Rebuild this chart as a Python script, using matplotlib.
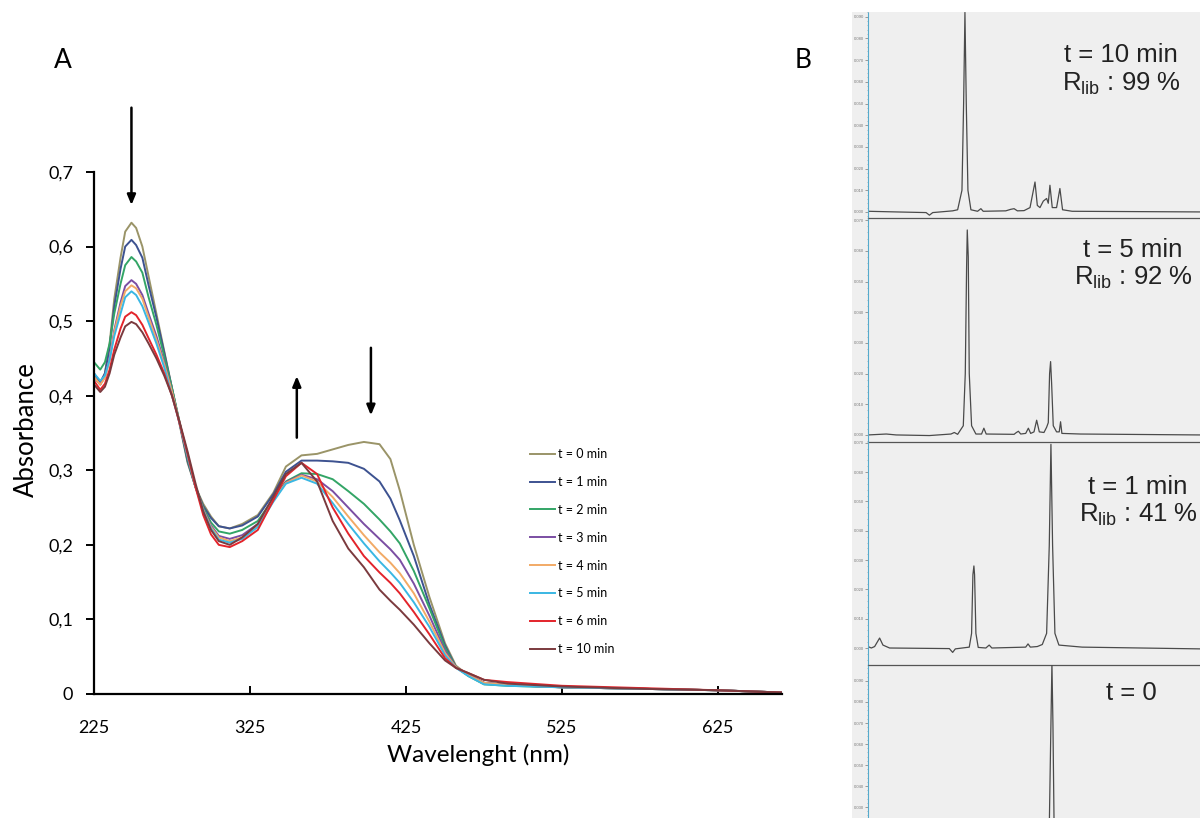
import matplotlib
matplotlib.use("Agg")
import matplotlib.pyplot as plt
from matplotlib.patches import Rectangle

# ---------------- Panel A data ----------------
wavelength = [225, 229, 232, 235, 238, 242, 245, 249, 252, 256, 260, 265, 270, 275, 280, 285, 290, 295, 300,
              305, 312, 320, 330, 340, 348, 358, 368, 378, 388, 398, 408, 415, 421, 430, 440, 450, 457, 465,
              475, 490, 525, 575, 625, 666]
abs_t0 = [0.425, 0.415, 0.430, 0.470, 0.530, 0.585, 0.620, 0.632, 0.625, 0.600, 0.560, 0.510, 0.460, 0.410, 0.360, 0.310, 0.278, 0.255, 0.238,
          0.225, 0.222, 0.228, 0.240, 0.270, 0.305, 0.320, 0.322, 0.328, 0.334, 0.338, 0.335, 0.315, 0.273, 0.200, 0.130, 0.068, 0.038, 0.025,
          0.015, 0.012, 0.009, 0.007, 0.005, 0.002]
abs_t1 = [0.430, 0.418, 0.430, 0.465, 0.520, 0.570, 0.600, 0.609, 0.602, 0.585, 0.548, 0.505, 0.458, 0.410, 0.362, 0.312, 0.278, 0.252, 0.236,
          0.225, 0.222, 0.226, 0.238, 0.268, 0.298, 0.313, 0.313, 0.312, 0.310, 0.302, 0.285, 0.262, 0.233, 0.185, 0.120, 0.065, 0.036, 0.025,
          0.015, 0.012, 0.009, 0.007, 0.005, 0.002]
abs_t2 = [0.445, 0.435, 0.445, 0.470, 0.510, 0.550, 0.575, 0.586, 0.580, 0.565, 0.532, 0.495, 0.453, 0.410, 0.363, 0.315, 0.278, 0.250, 0.230,
          0.218, 0.215, 0.220, 0.232, 0.262, 0.285, 0.296, 0.295, 0.288, 0.272, 0.255, 0.234, 0.218, 0.202, 0.165, 0.115, 0.062, 0.036, 0.024,
          0.013, 0.011, 0.009, 0.007, 0.005, 0.002]
abs_t3 = [0.425, 0.415, 0.425, 0.450, 0.488, 0.525, 0.547, 0.555, 0.550, 0.535, 0.510, 0.480, 0.445, 0.405, 0.362, 0.318, 0.278, 0.248, 0.226,
          0.212, 0.208, 0.213, 0.228, 0.260, 0.284, 0.294, 0.288, 0.272, 0.250, 0.228, 0.208, 0.194, 0.180, 0.148, 0.105, 0.058, 0.036, 0.025,
          0.015, 0.012, 0.009, 0.007, 0.005, 0.002]
abs_t4 = [0.425, 0.415, 0.424, 0.448, 0.485, 0.520, 0.540, 0.548, 0.544, 0.530, 0.505, 0.475, 0.442, 0.405, 0.363, 0.320, 0.278, 0.247, 0.224,
          0.210, 0.205, 0.210, 0.226, 0.260, 0.283, 0.293, 0.285, 0.264, 0.238, 0.213, 0.190, 0.176, 0.162, 0.135, 0.097, 0.055, 0.036, 0.025,
          0.015, 0.012, 0.009, 0.007, 0.005, 0.002]
abs_t5 = [0.430, 0.420, 0.427, 0.448, 0.480, 0.510, 0.532, 0.540, 0.535, 0.520, 0.498, 0.470, 0.438, 0.400, 0.362, 0.320, 0.278, 0.246, 0.222,
          0.207, 0.203, 0.208, 0.224, 0.258, 0.282, 0.290, 0.282, 0.256, 0.228, 0.202, 0.178, 0.163, 0.149, 0.123, 0.090, 0.052, 0.035, 0.024,
          0.013, 0.011, 0.009, 0.007, 0.005, 0.002]
abs_t6 = [0.420, 0.408, 0.416, 0.435, 0.462, 0.490, 0.506, 0.512, 0.508, 0.495, 0.477, 0.455, 0.430, 0.400, 0.362, 0.322, 0.278, 0.240, 0.214,
          0.200, 0.197, 0.205, 0.220, 0.260, 0.292, 0.310, 0.295, 0.250, 0.215, 0.185, 0.163, 0.149, 0.135, 0.110, 0.080, 0.048, 0.035, 0.028,
          0.019, 0.016, 0.011, 0.008, 0.005, 0.002]
abs_t10 = [0.415, 0.405, 0.412, 0.430, 0.455, 0.478, 0.493, 0.499, 0.496, 0.485, 0.470, 0.450, 0.427, 0.400, 0.364, 0.325, 0.283, 0.245, 0.220,
           0.205, 0.200, 0.210, 0.228, 0.265, 0.295, 0.310, 0.285, 0.232, 0.195, 0.170, 0.140, 0.125, 0.113, 0.093, 0.068, 0.045, 0.035, 0.028,
           0.019, 0.014, 0.010, 0.007, 0.005, 0.002]
series_labels = ["t = 0 min", "t = 1 min", "t = 2 min", "t = 3 min",
                 "t = 4 min", "t = 5 min", "t = 6 min", "t = 10 min"]
series_values = [abs_t0, abs_t1, abs_t2, abs_t3, abs_t4, abs_t5, abs_t6, abs_t10]
series_colors = ["#9a9468", "#3d5290", "#33a566", "#7b4ea3",
                 "#f2aa66", "#3ab7e3", "#e3242b", "#7b3a3e"]
x_ticks = [225, 325, 425, 525, 625]
y_ticks = [0, 0.1, 0.2, 0.3, 0.4, 0.5, 0.6, 0.7]
y_tick_labels = ["0", "0,1", "0,2", "0,3", "0,4", "0,5", "0,6", "0,7"]

# arrows: (wavelength, start absorbance, end absorbance)
arrows = [(249, 0.79, 0.652), (355, 0.34, 0.43), (402.5, 0.468, 0.37)]

# ---------------- Panel B data (chromatogram traces) ----------------
chrom_labels = [("t = 10 min", "R$_{\\mathrm{lib}}$ : 99 %"),
                ("t = 5 min", "R$_{\\mathrm{lib}}$ : 92 %"),
                ("t = 1 min", "R$_{\\mathrm{lib}}$ : 41 %"),
                ("t = 0", None)]
# retention axis in arbitrary units
trace1_x = [0.00, 0.85, 1.75, 1.85, 1.95, 2.55, 2.70, 2.83, 2.88, 2.92, 2.96, 3.01, 3.10, 3.30, 3.40,
            3.47, 4.15, 4.30, 4.40, 4.50, 4.70, 4.88, 5.03, 5.10, 5.18, 5.28, 5.38, 5.43, 5.48, 5.55,
            5.68, 5.78, 5.86, 6.15, 10.0]
trace1_y = [0.0003, 0.0, -0.0003, -0.0015, -0.0003, 0.0005, 0.001, 0.01, 0.05, 0.092, 0.05, 0.01, 0.001, 0.0003, 0.0015,
            0.0003, 0.0005, 0.0012, 0.0015, 0.0005, 0.0006, 0.002, 0.0138, 0.003, 0.002, 0.005, 0.0062, 0.004, 0.0123, 0.002,
            0.002, 0.0108, 0.001, 0.0003, 0.0]
trace2_x = [0.00, 0.55, 0.85, 1.85, 2.50, 2.60, 2.70, 2.87, 2.93, 2.97, 2.99, 3.02, 3.05, 3.12, 3.25, 3.42,
            3.49, 3.56, 4.40, 4.47, 4.53, 4.60, 4.75, 4.83, 4.90, 5.00, 5.08, 5.16, 5.30, 5.38, 5.43,
            5.47, 5.50, 5.53, 5.58, 5.68, 5.76, 5.80, 5.84, 6.40, 10.0]
trace2_y = [0.0, 0.0003, 0.0, -0.0002, 0.0003, 0.0008, 0.0002, 0.003, 0.02, 0.055, 0.0668, 0.058, 0.02, 0.003, 0.0003, 0.0003,
            0.0022, 0.0003, 0.0002, 0.0008, 0.0012, 0.0003, 0.0005, 0.0022, 0.0005, 0.001, 0.0048, 0.001, 0.0008, 0.0025, 0.004,
            0.02, 0.0239, 0.017, 0.003, 0.001, 0.001, 0.0043, 0.0005, 0.0003, 0.0]
trace3_x = [0.00, 0.10, 0.20, 0.35, 0.45, 0.65, 2.45, 2.55, 2.63, 3.05, 3.12, 3.16, 3.19, 3.21, 3.25, 3.32,
            3.55, 3.65, 3.73, 4.75, 4.82, 4.89, 5.10, 5.25, 5.38, 5.46, 5.51, 5.56, 5.63, 5.75, 6.45, 10.0]
trace3_y = [0.0005, 0.0, 0.0005, 0.0034, 0.001, 0.0, -0.0002, -0.0015, -0.0003, 0.0003, 0.005, 0.025, 0.028, 0.025, 0.005, 0.0002,
            0.0, 0.001, 0.0, 0.0003, 0.0014, 0.0003, 0.0005, 0.0012, 0.005, 0.035, 0.0695, 0.035, 0.005, 0.001, 0.0003, -0.0003]
trace4_x = [0.00, 5.44, 5.50, 5.54, 5.57, 5.62, 10.0]
trace4_y = [0.0, 0.0, 0.06, 0.0985, 0.07, 0.0, 0.0]
traces = [(trace1_x, trace1_y), (trace2_x, trace2_y), (trace3_x, trace3_y), (trace4_x, trace4_y)]
strip_ylims = [(-0.0028, 0.0922), (-0.0023, 0.0707), (-0.0058, 0.0703), (0.0248, 0.0976)]
strip_ticks = [[0.0, 0.01, 0.02, 0.03, 0.04, 0.05, 0.06, 0.07, 0.08, 0.09],
               [0.0, 0.01, 0.02, 0.03, 0.04, 0.05, 0.06, 0.07],
               [0.0, 0.01, 0.02, 0.03, 0.04, 0.05, 0.06, 0.07],
               [0.03, 0.04, 0.05, 0.06, 0.07, 0.08, 0.09]]

# ---------------- Figure ----------------
W, H = 1200, 818
fig = plt.figure(figsize=(12, 8.18), dpi=100)
FONT = ["Lato", "DejaVu Sans"]
ARIAL = ["Liberation Sans", "DejaVu Sans"]
plt.rcParams["mathtext.fontset"] = "custom"
plt.rcParams["mathtext.rm"] = "Liberation Sans"
plt.rcParams["mathtext.it"] = "Liberation Sans:italic"


def fx(px):
    return px / W


def fy(py):
    return 1 - py / H


# Panel A axes
ax = fig.add_axes([fx(94), fy(694), fx(782) - fx(94), fy(172) - fy(694)])
for vals, lab, col in zip(series_values, series_labels, series_colors):
    ax.plot(wavelength, vals, color=col, lw=1.4, label=lab)
ax.set_xlim(225, 666)
ax.set_ylim(0, 0.7)
ax.set_xticks(x_ticks)
ax.set_xticklabels([str(v) for v in x_ticks], fontfamily=FONT, fontsize=13)
ax.set_yticks(y_ticks)
ax.set_yticklabels(y_tick_labels, fontfamily=FONT, fontsize=13)
for s in ["top", "right"]:
    ax.spines[s].set_visible(False)
for s in ["left", "bottom"]:
    ax.spines[s].set_linewidth(1.6)
ax.tick_params(axis="y", direction="out", length=6, width=1.4, pad=9)
ax.tick_params(axis="x", direction="in", length=6, width=1.4, pad=19)
ax.set_ylabel("Absorbance", fontfamily=FONT, fontsize=18.5)
ax.yaxis.set_label_coords(-(94 - 26) / 688, (694 - 430) / 522)
ax.set_xlabel("Wavelenght (nm)", fontfamily=FONT, fontsize=17.5)
ax.xaxis.set_label_coords((478 - 94) / 688, -(755 - 694) / 522)
ax.xaxis.label.set_va("center")
ax.yaxis.label.set_va("center")

for wl, a0, a1 in arrows:
    ax.annotate("", xy=(wl, a1), xytext=(wl, a0), annotation_clip=False,
                arrowprops=dict(arrowstyle="-|>,head_length=0.6,head_width=0.25", color="black", lw=1.8))

leg = ax.legend(loc="upper left", bbox_to_anchor=(fx(525), fy(443)), bbox_transform=fig.transFigure,
                frameon=False, prop={"family": FONT, "size": 9}, handlelength=2.0,
                handletextpad=0.2, labelspacing=1.27, borderaxespad=0)

fig.text(fx(63), fy(60), "A", fontfamily=FONT, fontsize=19, ha="center", va="center")
fig.text(fx(803), fy(60), "B", fontfamily=FONT, fontsize=19, ha="center", va="center")

# Panel B background
fig.patches.append(Rectangle((fx(852), 0), 1 - fx(852), fy(12), transform=fig.transFigure,
                             facecolor="#efefef", edgecolor="none", zorder=-5))

strip_bounds = [(12, 218), (218, 442), (442, 665), (665, 818)]
text_pos = [(1121, 55, 84), (1133, 250, 278), (1138, 487, 515), (1131, 693, None)]
for i, ((top, bot), (tx, ty), ylim, ticks) in enumerate(zip(strip_bounds, traces, strip_ylims, strip_ticks)):
    a = fig.add_axes([fx(868), fy(bot), 1 - fx(868), fy(top) - fy(bot)])
    a.set_facecolor("none")
    a.plot(tx, ty, color="#4a4a4a", lw=0.9)
    a.set_xlim(0, 10)
    a.set_ylim(*ylim)
    a.set_yticks(ticks)
    a.set_yticklabels(["%.3f" % t for t in ticks], fontsize=3, color="#777777", fontfamily=ARIAL)
    a.tick_params(axis="y", length=2, width=0.5, color="#777777", pad=1)
    a.minorticks_on()
    a.tick_params(axis="y", which="minor", length=1, width=0.4, color="#888888")
    a.set_xticks([])
    a.tick_params(axis="x", which="minor", bottom=False)
    for s in ["top", "right"]:
        a.spines[s].set_visible(False)
    a.spines["left"].set_color("#55aacc")
    a.spines["left"].set_linestyle((0, (1, 1)))
    a.spines["left"].set_linewidth(0.8)
    if i < 3:
        a.spines["bottom"].set_color("#555555")
        a.spines["bottom"].set_linewidth(0.9)
    else:
        a.spines["bottom"].set_visible(False)
    lab1, lab2 = chrom_labels[i]
    cx, y1, y2 = text_pos[i]
    fig.text(fx(cx), fy(y1), lab1, fontfamily=ARIAL, fontsize=18.5, color="#222222", ha="center", va="center")
    if lab2:
        fig.text(fx(cx), fy(y2), lab2, fontfamily=ARIAL, fontsize=18.5, color="#222222", ha="center", va="center")

fig.savefig("out.png", dpi=100)
